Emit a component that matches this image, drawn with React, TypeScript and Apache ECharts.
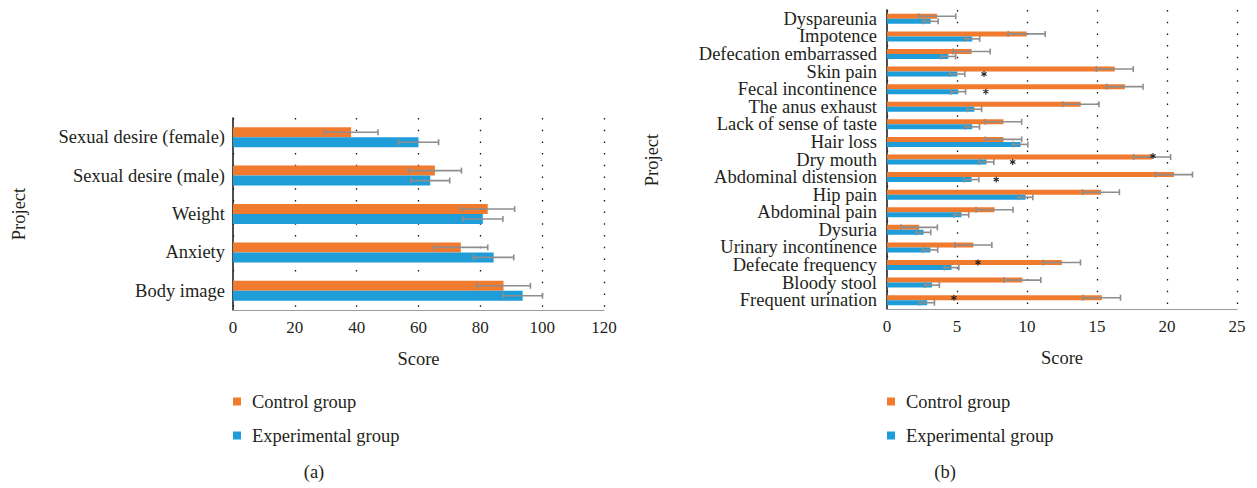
import React, { useEffect, useRef } from "react";
import * as echarts from "echarts";

// ---------- Panel (a) ----------
const leftCategories = [
  "Sexual desire (female)",
  "Sexual desire (male)",
  "Weight",
  "Anxiety",
  "Body image",
];
const leftControl = [38.2, 65.3, 82.4, 73.7, 87.5];
const leftControlErr = [8.7, 8.6, 8.7, 8.7, 8.7];
const leftExperimental = [60.0, 63.8, 80.8, 84.3, 93.7];
const leftExperimentalErr = [6.5, 6.3, 6.5, 6.5, 6.4];
const leftTicks = { min: 0, max: 120, interval: 20 };

// ---------- Panel (b) ----------
const rightCategories = [
  "Dyspareunia",
  "Impotence",
  "Defecation embarrassed",
  "Skin pain",
  "Fecal incontinence",
  "The anus exhaust",
  "Lack of sense of taste",
  "Hair loss",
  "Dry mouth",
  "Abdominal distension",
  "Hip pain",
  "Abdominal pain",
  "Dysuria",
  "Urinary incontinence",
  "Defecate frequency",
  "Bloody stool",
  "Frequent urination",
];
const rightControl = [3.58, 9.98, 6.04, 16.27, 16.99, 13.84, 8.32, 8.32, 18.94, 20.5, 15.28, 7.68, 2.3, 6.17, 12.49, 9.67, 15.35];
const rightControlErr = [1.33, 1.32, 1.33, 1.32, 1.3, 1.3, 1.3, 1.3, 1.32, 1.32, 1.32, 1.32, 1.3, 1.32, 1.33, 1.32, 1.33];
const rightExperimental = [3.12, 6.09, 4.38, 5.02, 5.09, 6.24, 6.09, 9.54, 7.11, 6.04, 9.9, 5.32, 2.61, 3.1, 4.61, 3.22, 2.87];
const rightExperimentalErr = [0.54, 0.53, 0.52, 0.54, 0.52, 0.52, 0.52, 0.52, 0.52, 0.52, 0.52, 0.52, 0.51, 0.52, 0.52, 0.52, 0.52];
const rightTicks = { min: 0, max: 25, interval: 5 };
// asterisks: [x value, category index, row (-1 = control bar, 1 = experimental bar)]
const rightStars = [
  [6.93, 3, 1],
  [7.06, 4, 1],
  [19.0, 8, -1.4],
  [8.98, 8, 1],
  [7.8, 9, 1],
  [6.5, 14, -1],
  [4.78, 16, -1],
];

const seriesNames = ["Control group", "Experimental group"];
const ORANGE = "#F07B2F";
const BLUE = "#1E9DD8";
const FONT = "'Liberation Serif', 'DejaVu Serif', serif";
const TEXT = "#231F20";
const FS = 18.5;

function errData(vals: number[], errs: number[]) {
  return vals.map((v, i) => [v - errs[i], v + errs[i], i]);
}

function errorBarRender(offset: number, cap: number) {
  return (params: any, api: any) => {
    const lo = api.value(0);
    const hi = api.value(1);
    const cat = api.value(2);
    const p1 = api.coord([lo, cat]);
    const p2 = api.coord([hi, cat]);
    const y = p1[1] + offset;
    const style = { stroke: "#8E8E8E", lineWidth: 1.6 };
    return {
      type: "group",
      children: [
        { type: "line", shape: { x1: p1[0], y1: y, x2: p2[0], y2: y }, style },
        { type: "line", shape: { x1: p1[0], y1: y - cap, x2: p1[0], y2: y + cap }, style },
        { type: "line", shape: { x1: p2[0], y1: y - cap, x2: p2[0], y2: y + cap }, style },
      ],
    };
  };
}

function starRender(barHalf: number) {
  return (params: any, api: any) => {
    const p = api.coord([api.value(0), api.value(1)]);
    const cx = p[0];
    const cy = p[1] + api.value(2) * barHalf;
    const r = 3;
    const style = { stroke: "#222", lineWidth: 1.1 };
    const children: any[] = [];
    for (let k = 0; k < 3; k++) {
      const a = Math.PI / 2 + (k * Math.PI) / 3;
      children.push({
        type: "line",
        shape: { x1: cx - r * Math.cos(a), y1: cy - r * Math.sin(a), x2: cx + r * Math.cos(a), y2: cy + r * Math.sin(a) },
        style,
      });
    }
    return { type: "group", children };
  };
}

export default function App() {
  const ref = useRef<HTMLDivElement>(null);
  useEffect(() => {
    const chart = echarts.init(ref.current!, null, { renderer: "svg" });
    const splitLine = { show: true, lineStyle: { type: [1.5, 10.2], color: "#111", width: 1.3 } };
    const xAxisCommon = {
      type: "value",
      axisTick: { show: false },
      axisLine: { show: true, lineStyle: { color: "#9a9a9a", width: 1 } },
      axisLabel: { color: TEXT, fontSize: 17, fontFamily: FONT, margin: 9 },
      splitLine,
      name: "Score",
      nameLocation: "middle",
      nameGap: 39,
      nameTextStyle: { color: TEXT, fontSize: FS, fontFamily: FONT },
    };
    const yAxisCommon = {
      type: "category",
      inverse: true,
      axisTick: { show: false },
      axisLine: { show: true, lineStyle: { color: "#222", width: 1.6 } },
      axisLabel: { color: TEXT, fontSize: FS, fontFamily: FONT, interval: 0 },
      splitLine: { show: false },
    };
    const legendCommon = {
      orient: "vertical",
      padding: 0,
      itemWidth: 8,
      itemHeight: 8,
      itemGap: 15,
      icon: "rect",
      selectedMode: false,
      data: seriesNames,
      textStyle: { color: TEXT, fontSize: FS, fontFamily: FONT, lineHeight: 19, padding: [0, 0, 0, 6] },
    };
    const option: any = {
      animation: false,
      backgroundColor: "#fff",
      textStyle: { fontFamily: FONT },
      grid: [
        { left: 233, width: 371, top: 118, height: 192 },
        { left: 887, width: 350, top: 10, height: 299 },
      ],
      xAxis: [
        { ...xAxisCommon, gridIndex: 0, ...leftTicks },
        { ...xAxisCommon, gridIndex: 1, ...rightTicks },
      ],
      yAxis: [
        { ...yAxisCommon, gridIndex: 0, data: leftCategories, axisLabel: { ...yAxisCommon.axisLabel, margin: 8 } },
        { ...yAxisCommon, gridIndex: 1, data: rightCategories, axisLabel: { ...yAxisCommon.axisLabel, margin: 10 } },
      ],
      legend: [
        { ...legendCommon, left: 233, top: 392 },
        { ...legendCommon, left: 887, top: 392 },
      ],
      series: [
        { type: "bar", name: seriesNames[0], xAxisIndex: 0, yAxisIndex: 0, data: leftControl, barWidth: 10, barGap: "0%", itemStyle: { color: ORANGE } },
        { type: "bar", name: seriesNames[1], xAxisIndex: 0, yAxisIndex: 0, data: leftExperimental, barWidth: 10, barGap: "0%", itemStyle: { color: BLUE } },
        { type: "bar", name: seriesNames[0], xAxisIndex: 1, yAxisIndex: 1, data: rightControl, barWidth: 5, barGap: "0%", itemStyle: { color: ORANGE } },
        { type: "bar", name: seriesNames[1], xAxisIndex: 1, yAxisIndex: 1, data: rightExperimental, barWidth: 5, barGap: "0%", itemStyle: { color: BLUE } },
        { type: "custom", xAxisIndex: 0, yAxisIndex: 0, data: errData(leftControl, leftControlErr), encode: { x: [0, 1], y: 2 }, renderItem: errorBarRender(-5, 3), z: 5, silent: true },
        { type: "custom", xAxisIndex: 0, yAxisIndex: 0, data: errData(leftExperimental, leftExperimentalErr), encode: { x: [0, 1], y: 2 }, renderItem: errorBarRender(5, 3), z: 5, silent: true },
        { type: "custom", xAxisIndex: 1, yAxisIndex: 1, data: errData(rightControl, rightControlErr), encode: { x: [0, 1], y: 2 }, renderItem: errorBarRender(-2.5, 3), z: 5, silent: true },
        { type: "custom", xAxisIndex: 1, yAxisIndex: 1, data: errData(rightExperimental, rightExperimentalErr), encode: { x: [0, 1], y: 2 }, renderItem: errorBarRender(2.5, 3), z: 5, silent: true },
        { type: "custom", xAxisIndex: 1, yAxisIndex: 1, data: rightStars, encode: { x: 0, y: 1 }, renderItem: starRender(2.5), z: 6, silent: true },
      ],
      graphic: [
        { type: "text", x: 19, y: 214, rotation: Math.PI / 2, style: { text: "Project", fill: TEXT, font: `${FS}px ${FONT}`, align: "center", verticalAlign: "middle" } },
        { type: "text", x: 652, y: 160, rotation: Math.PI / 2, style: { text: "Project", fill: TEXT, font: `${FS}px ${FONT}`, align: "center", verticalAlign: "middle" } },
        { type: "text", x: 314, y: 472, style: { text: "(a)", fill: TEXT, font: `${FS}px ${FONT}`, align: "center", verticalAlign: "middle" } },
        { type: "text", x: 945, y: 472, style: { text: "(b)", fill: TEXT, font: `${FS}px ${FONT}`, align: "center", verticalAlign: "middle" } },
      ],
    };
    chart.setOption(option);
    return () => chart.dispose();
  }, []);
  return <div ref={ref} style={{ position: "absolute", left: 0, top: 0, width: 1257, height: 488 }} />;
}
